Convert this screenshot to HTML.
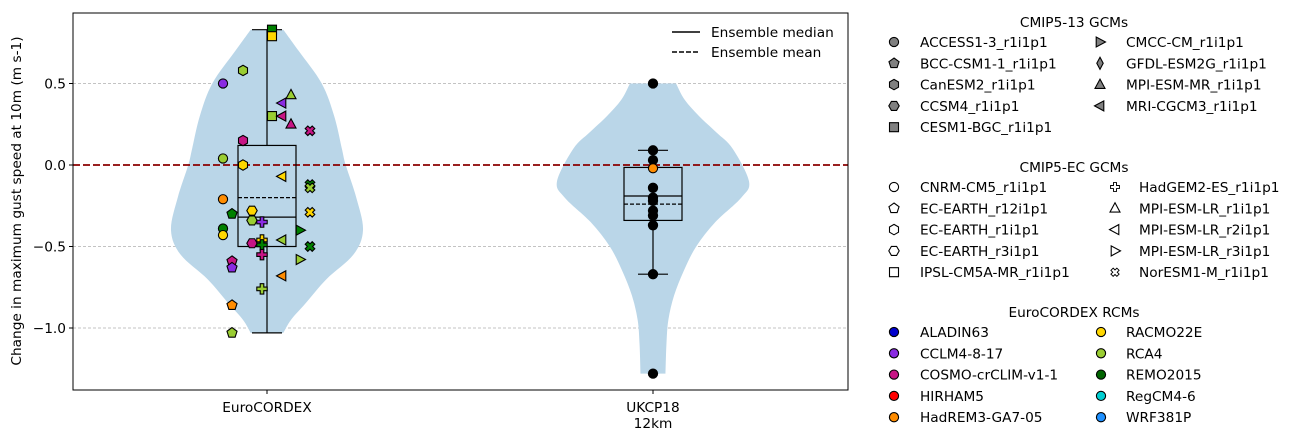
<!DOCTYPE html>
<html><head><meta charset="utf-8"><style>
body{margin:0;background:#fff;font-family:"Liberation Sans","DejaVu Sans",sans-serif;}
svg text{font-family:"DejaVu Sans","Liberation Sans",sans-serif;font-size:13.7px;fill:#000}
</style></head><body>
<svg id="c" width="1296" height="440"></svg>
<script>
// ---- data ----
const categories = ["EuroCORDEX", "UKCP18\n12km"];
const yTicks = [0.5, 0.0, -0.5, -1.0];
const yTickLabels = ["0.5", "0.0", "\u22120.5", "\u22121.0"];
// violin profile (value, relative half-width)
const violinEuroVals = [0.83,0.7,0.5,0.3,0.1,0.0,-0.2,-0.4,-0.55,-0.7,-0.85,-0.95,-1.03];
const violinEuroW    = [0.17,0.33,0.57,0.70,0.78,0.82,0.93,1.0,0.9,0.62,0.4,0.25,0.17];
const violinUkVals = [0.5,0.4,0.3,0.2,0.1,-0.1,-0.2,-0.35,-0.5,-0.65,-0.8,-0.95,-1.1,-1.28];
const violinUkW    = [0.24,0.33,0.48,0.66,0.83,1.0,0.92,0.65,0.45,0.32,0.22,0.16,0.14,0.13];
// box stats: [whiskerLow, q1, median, q3, whiskerHigh, mean]
const boxEuro = [-1.03,-0.50,-0.32,0.12,0.83,-0.20];
const boxUk = [-0.67,-0.34,-0.19,-0.015,0.09,-0.24];
// EuroCORDEX members
const euroValues = [0.83,0.79,0.58,0.50,0.43,0.38,0.30,0.30,0.25,0.21,0.15,0.04,0.0,-0.07,-0.12,-0.14,-0.21,-0.30,-0.28,-0.34,-0.35,-0.29,-0.39,-0.43,-0.40,-0.46,-0.48,-0.46,-0.49,-0.50,-0.55,-0.59,-0.63,-0.58,-0.68,-0.76,-0.86,-1.03];
const euroShapes = ["sq","sq","hexp","o","tu","tl","sq","tl","tu","x","hexp","o","hexp","tl","x","x","o","pent","hexf","hexf","plus","x","o","o","tr","tl","hexf","plus","plus","x","plus","pent","pent","tr","tl","plus","pent","pent"];
const euroColors = ["#008000","#ffd700","#9acd32","#8a2be2","#9acd32","#8a2be2","#9acd32","#c71585","#c71585","#c71585","#c71585","#9acd32","#ffd700","#ffd700","#008000","#9acd32","#ff8c00","#008000","#ffd700","#9acd32","#8a2be2","#ffd700","#008000","#ffd700","#008000","#9acd32","#c71585","#ffd700","#008000","#008000","#c71585","#c71585","#8a2be2","#9acd32","#ff8c00","#9acd32","#ff8c00","#9acd32"];
// UKCP18 members
const ukValues = [0.5,0.09,0.03,-0.14,-0.2,-0.22,-0.28,-0.31,-0.37,-0.67,-1.28,-0.02];
const ukColors = ["#000","#000","#000","#000","#000","#000","#000","#000","#000","#000","#000","#ff8c00"];
// legends
const gcm13Names = ["ACCESS1-3_r1i1p1","BCC-CSM1-1_r1i1p1","CanESM2_r1i1p1","CCSM4_r1i1p1","CESM1-BGC_r1i1p1","CMCC-CM_r1i1p1","GFDL-ESM2G_r1i1p1","MPI-ESM-MR_r1i1p1","MRI-CGCM3_r1i1p1"];
const gcm13Shapes = ["o","pent","hexp","hexf","sq","tr","dia","tu","tl"];
const gcmECNames = ["CNRM-CM5_r1i1p1","EC-EARTH_r12i1p1","EC-EARTH_r1i1p1","EC-EARTH_r3i1p1","IPSL-CM5A-MR_r1i1p1","HadGEM2-ES_r1i1p1","MPI-ESM-LR_r1i1p1","MPI-ESM-LR_r2i1p1","MPI-ESM-LR_r3i1p1","NorESM1-M_r1i1p1"];
const gcmECShapes = ["o","pent","hexp","hexf","sq","plus","tu","tl","tr","x"];
const rcmNames = ["ALADIN63","CCLM4-8-17","COSMO-crCLIM-v1-1","HIRHAM5","HadREM3-GA7-05","RACMO22E","RCA4","REMO2015","RegCM4-6","WRF381P"];
const rcmColors = ["#0000cd","#8a2be2","#c71585","#ff0000","#ff8c00","#ffd700","#9acd32","#006400","#00ced1","#1e90ff"];

// ---- layout ----
const svg=document.getElementById('c');const NS='http://www.w3.org/2000/svg';
const L=73,R=848,T=13,B=390;
const y=v=>165-163*v;
const xc=[267,653];
const shapeOff={o:-44,pent:-35,hexp:-24,hexf:-15,plus:-5,sq:5,tl:15,tu:24,tr:33,x:43,dia:0};
function el(tag,a,p){const e=document.createElementNS(NS,tag);for(const k in a)e.setAttribute(k,a[k]);(p||svg).appendChild(e);return e;}
function txt(s,x,yy,anchor,p){const t=el('text',{x:x,y:yy,'text-anchor':anchor||'start'},p);t.textContent=s;return t;}
function poly(n,r,rot){let pts=[];for(let i=0;i<n;i++){const a=rot+i*2*Math.PI/n;pts.push([Math.sin(a)*r,-Math.cos(a)*r]);}return 'M'+pts.map(p=>p[0].toFixed(2)+','+p[1].toFixed(2)).join('L')+'Z';}
function shapePath(s){switch(s){
 case 'o':return 'M-4.6,0A4.6,4.6 0 1 0 4.6,0A4.6,4.6 0 1 0 -4.6,0Z';
 case 'pent':return poly(5,5.3,0);
 case 'hexp':return poly(6,5.2,0);
 case 'hexf':return poly(6,5.2,Math.PI/6);
 case 'sq':return 'M-4.5,-4.5H4.5V4.5H-4.5Z';
 case 'tu':return 'M0,-5.5L5,3.8L-5,3.8Z';
 case 'tl':return 'M-5.5,0L3.8,-5L3.8,5Z';
 case 'tr':return 'M5.5,0L-3.8,-5L-3.8,5Z';
 case 'dia':return 'M0,-6L3.2,0L0,6L-3.2,0Z';
 case 'plus':return 'M-1.8,-5.2H1.8V-1.8H5.2V1.8H1.8V5.2H-1.8V1.8H-5.2V-1.8H-1.8Z';
 case 'x':return 'M-2.2,-4.8L0,-2.6L2.2,-4.8L4.8,-2.2L2.6,0L4.8,2.2L2.2,4.8L0,2.6L-2.2,4.8L-4.8,2.2L-2.6,0L-4.8,-2.2Z';
 }}
function marker(s,cx,cy,fill,p){return el('path',{d:shapePath(s),transform:`translate(${cx},${cy})`,fill:fill,stroke:'#000','stroke-width':1.1},p);}

// grid
const grid=el('g',{});
yTicks.forEach(v=>{if(v!==0)el('line',{x1:L,x2:R,y1:y(v),y2:y(v),stroke:'#b0b0b0','stroke-width':0.8,'stroke-dasharray':'3,2'},grid);});

// violins
function violin(i,vals,ws,name){let right=[],left=[];const half=96;
 vals.forEach((v,k)=>{right.push([xc[i]+ws[k]*half,y(v)]);});
 for(let k=vals.length-1;k>=0;k--)left.push([xc[i]-ws[k]*half,y(vals[k])]);
 function cr(arr){let s='';for(let k=0;k<arr.length-1;k++){const p0=arr[Math.max(k-1,0)],p1=arr[k],p2=arr[k+1],p3=arr[Math.min(k+2,arr.length-1)];
  s+=`C${p1[0]+(p2[0]-p0[0])/6},${p1[1]+(p2[1]-p0[1])/6} ${p2[0]-(p3[0]-p1[0])/6},${p2[1]-(p3[1]-p1[1])/6} ${p2[0]},${p2[1]}`;}return s;}
 const d='M'+right[0].join(',')+cr(right)+'L'+left[0].join(',')+cr(left)+'Z';
 const p=el('path',{d:d,fill:'#bad6e8'});}
violin(0,violinEuroVals,violinEuroW,'violin-eurocordex');
violin(1,violinUkVals,violinUkW,'violin-ukcp18');

// zero line
const z=el('line',{x1:L,x2:R,y1:y(0),y2:y(0),stroke:'#8b0000','stroke-width':1.8,'stroke-dasharray':'7,3'});


// boxes
function box(i,b,name){const g=el('g',{fill:'none',stroke:'#000','stroke-width':1.2});
 const w=29,c=xc[i];
 el('rect',{x:c-w,y:y(b[3]),width:2*w,height:y(b[1])-y(b[3])},g);
 el('line',{x1:c,x2:c,y1:y(b[3]),y2:y(b[4])},g);el('line',{x1:c,x2:c,y1:y(b[1]),y2:y(b[0])},g);
 el('line',{x1:c-15,x2:c+15,y1:y(b[4]),y2:y(b[4])},g);el('line',{x1:c-15,x2:c+15,y1:y(b[0]),y2:y(b[0])},g);
 el('line',{x1:c-w,x2:c+w,y1:y(b[2]),y2:y(b[2])},g);
 el('line',{x1:c-w,x2:c+w,y1:y(b[5]),y2:y(b[5]),'stroke-dasharray':'4,2'},g);}
box(0,boxEuro,'box-eurocordex');box(1,boxUk,'box-ukcp18');

// points
const pg=el('g',{});
euroValues.forEach((v,k)=>{const m=marker(euroShapes[k],xc[0]+shapeOff[euroShapes[k]],y(v),euroColors[k],pg);
 
 });
const ug=el('g',{});
ukValues.forEach((v,k)=>{const m=marker('o',xc[1],y(v),ukColors[k],ug);
 
 });

// axes frame
const fr=el('rect',{x:L,y:T,width:R-L,height:B-T,fill:'none',stroke:'#000','stroke-width':1});

const ya=el('g',{});
yTicks.forEach((v,k)=>{el('line',{x1:L-4,x2:L,y1:y(v),y2:y(v),stroke:'#000'},ya);txt(yTickLabels[k],L-7,y(v)+5,'end',ya);});
const xa=el('g',{});
categories.forEach((c,i)=>{el('line',{x1:xc[i],x2:xc[i],y1:B,y2:B+4,stroke:'#000'},xa);c.split('\n').forEach((s,j)=>txt(s,xc[i],412+j*16,'middle',xa));});
const yt=txt('Change in maximum gust speed at 10m (m s-1)',0,0,'middle');
yt.setAttribute('transform','translate(21,201) rotate(-90)');


// inner legend
const il=el('g',{});
el('line',{x1:672,x2:700,y1:32,y2:32,stroke:'#000','stroke-width':1.5},il);txt('Ensemble median',711,37,'start',il);
el('line',{x1:672,x2:700,y1:52,y2:52,stroke:'#000','stroke-width':1.5,'stroke-dasharray':'5,2'},il);txt('Ensemble mean',711,57,'start',il);

// right legends
function section(title,ty,names,shapes,colors,col2m,col2t,name){
 const g=el('g',{});
 txt(title,1074,ty+5,'middle',g);
 const n1=Math.ceil(names.length/2);
 names.forEach((nm,k)=>{const c=k<n1?0:1,r=c?k-n1:k;const yy=ty+20+r*21.3;
  const m=marker(shapes[k],c?col2m:894,yy,colors[k],g);
  if(shapes[k]==='plus'||shapes[k]==='x')m.setAttribute('transform',`translate(${c?col2m:894},${yy}) scale(0.85)`);
  const t=txt(nm,c?col2t:920,yy+5,'start',g);
  
  });}
section('CMIP5-13 GCMs',22,gcm13Names,gcm13Shapes,gcm13Names.map(()=>'#808080'),1100,1126,'legend-cmip5-13');
section('CMIP5-EC GCMs',167,gcmECNames,gcmECShapes,gcmECNames.map(()=>'#fff'),1115,1139,'legend-cmip5-ec');
section('EuroCORDEX RCMs',312,rcmNames,rcmNames.map(()=>'o'),rcmColors,1101,1126,'legend-rcms');
</script>
</body></html>
